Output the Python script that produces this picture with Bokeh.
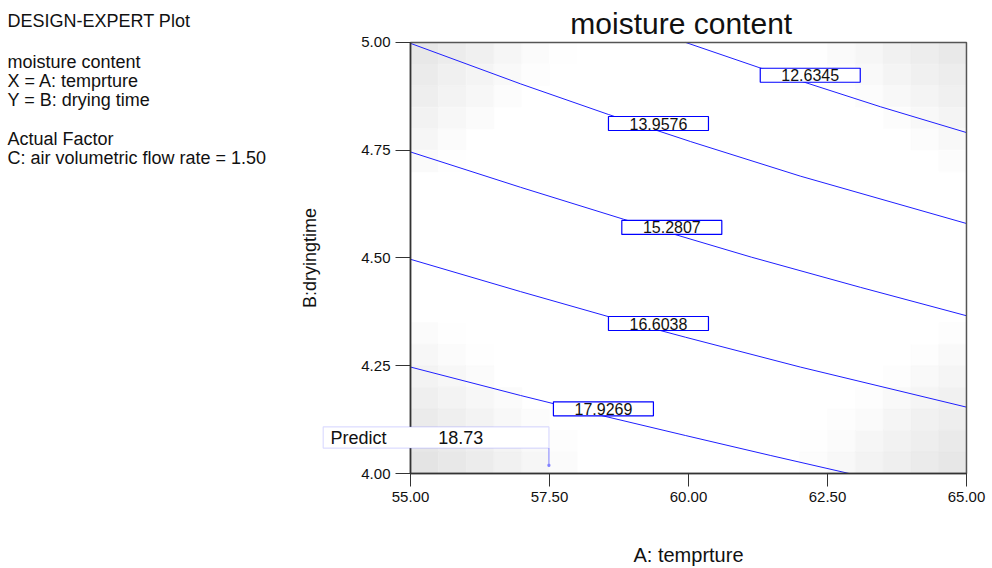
from bokeh.plotting import figure
from bokeh.models import FixedTicker, PrintfTickFormatter, Label, BoxAnnotation, Range1d
from bokeh.core.properties import value
from bokeh.embed import file_html
from bokeh.resources import INLINE

# ---------------- data ----------------
temp_ticks = [55.0, 57.5, 60.0, 62.5, 65.0]
time_ticks = [4.00, 4.25, 4.50, 4.75, 5.00]

levels = ["12.6345", "13.9576", "15.2807", "16.6038", "17.9269"]
c1_a = [59.95, 61.31, 63.45, 65.0]
c1_b = [5.000, 4.940, 4.851, 4.791]
c2_a = [55.0, 56.98, 58.56, 60.04, 62.01, 65.0]
c2_b = [4.998, 4.904, 4.833, 4.770, 4.690, 4.580]
c3_a = [55.0, 56.98, 58.83, 61.13, 63.09, 65.0]
c3_b = [4.746, 4.664, 4.590, 4.502, 4.432, 4.366]
c4_a = [55.0, 56.98, 58.56, 59.95, 62.01, 65.0]
c4_b = [4.497, 4.422, 4.364, 4.316, 4.247, 4.154]
c5_a = [55.0, 56.98, 58.42, 59.95, 61.47, 62.89]
c5_b = [4.247, 4.181, 4.135, 4.088, 4.042, 4.000]

label_a = [62.19, 59.46, 59.70, 59.46, 58.47]
label_b = [4.924, 4.812, 4.571, 4.348, 4.150]

# grey levels of the standard-error shading, 20 x 20 grid, corners only
shade_top_left = [      # rows from top, columns from left
    [232, 236, 240, 246, 251, 254],
    [235, 240, 244, 249, 253, 255],
    [238, 243, 247, 252, 255, 255],
    [242, 247, 251, 255, 255, 255],
    [246, 251, 255, 255, 255, 255],
    [250, 254, 255, 255, 255, 255],
]
shade_top_right = [     # rows from top, columns from right
    [233, 237, 241, 246, 250, 254],
    [237, 240, 244, 249, 253, 255],
    [240, 244, 248, 252, 255, 255],
    [244, 248, 252, 255, 255, 255],
    [248, 252, 255, 255, 255, 255],
    [252, 255, 255, 255, 255, 255],
]
shade_bottom_left = [   # rows from bottom, columns from left
    [228, 232, 236, 241, 246, 251],
    [231, 235, 239, 244, 249, 253],
    [235, 239, 243, 248, 252, 255],
    [239, 243, 247, 251, 255, 255],
    [243, 247, 251, 255, 255, 255],
    [247, 251, 254, 255, 255, 255],
    [251, 254, 255, 255, 255, 255],
]
shade_bottom_right = [  # rows from bottom, columns from right
    [231, 235, 239, 243, 248, 252],
    [234, 238, 242, 246, 251, 254],
    [238, 241, 245, 250, 253, 255],
    [241, 245, 249, 253, 255, 255],
    [245, 249, 253, 255, 255, 255],
    [249, 253, 255, 255, 255, 255],
    [253, 255, 255, 255, 255, 255],
]

predict_a = 57.49
predict_b = 4.019
predict_value = "18.73"

info_lines = [
    "DESIGN-EXPERT Plot",
    "moisture content",
    "X = A: temprture",
    "Y = B: drying time",
    "Actual Factor",
    "C: air volumetric flow rate = 1.50",
]

# ---------------- figure ----------------
FONT = "Liberation Sans"
N = 20
a0, a1 = temp_ticks[0], temp_ticks[-1]
b0, b1 = time_ticks[0], time_ticks[-1]
da = (a1 - a0) / N
db = (b1 - b0) / N

# the data frame fills the whole canvas; axes are pinned to the 55-65 / 4-5 box
p = figure(width=992, height=568, output_backend="svg", toolbar_location=None, title=None,
           x_range=Range1d(47.626, 65.468), y_range=Range1d(3.7796, 5.0974),
           min_border_left=0, min_border_right=0, min_border_top=0, min_border_bottom=0)
p.background_fill_color = "white"
p.border_fill_color = "white"
p.outline_line_color = None
p.xgrid.visible = False
p.ygrid.visible = False

# shading grid
grid = [[255] * N for _ in range(N)]
for i, row in enumerate(shade_top_left):
    for j, g in enumerate(row):
        grid[i][j] = min(grid[i][j], g)
for i, row in enumerate(shade_top_right):
    for j, g in enumerate(row):
        grid[i][N - 1 - j] = min(grid[i][N - 1 - j], g)
for i, row in enumerate(shade_bottom_left):
    for j, g in enumerate(row):
        grid[N - 1 - i][j] = min(grid[N - 1 - i][j], g)
for i, row in enumerate(shade_bottom_right):
    for j, g in enumerate(row):
        grid[N - 1 - i][N - 1 - j] = min(grid[N - 1 - i][N - 1 - j], g)

L, R, T, B, C = [], [], [], [], []
for i in range(N):
    for j in range(N):
        g = grid[i][j]
        if g < 255:
            L.append(a0 + j * da); R.append(a0 + (j + 1) * da)
            T.append(b1 - i * db); B.append(b1 - (i + 1) * db)
            C.append("#%02x%02x%02x" % (g, g, g))
p.quad(left=L, right=R, top=T, bottom=B, fill_color=C, line_color=C, line_width=0.5)

# contour lines
blue = "#1f1fff"
for xs, ys in [(c1_a, c1_b), (c2_a, c2_b), (c3_a, c3_b), (c4_a, c4_b), (c5_a, c5_b)]:
    p.line(xs, ys, line_color=blue, line_width=1)

# plot box border
p.quad(left=[a0], right=[a1], bottom=[b0], top=[b1], fill_color=None,
       line_color="#555555", line_width=1.5)

# contour labels
p.rect(x=label_a, y=label_b, width=100, height=14, width_units="screen", height_units="screen",
       fill_color="white", line_color="#0000ff", line_width=1.2)
p.text(x=label_a, y=label_b, text=levels, text_align="center", text_baseline="middle",
       text_font=value(FONT), text_font_size="16px", text_color="#111111")

# prediction flag
p.segment(x0=[predict_a], y0=[predict_b], x1=[predict_a], y1=[predict_b + 0.040],
          line_color="#8080ff", line_width=1)
p.scatter(x=[predict_a], y=[predict_b], size=2, marker="square",
          fill_color="#8080ff", line_color="#8080ff")
box = BoxAnnotation(left=predict_a - 4.06, right=predict_a, bottom=predict_b + 0.040,
                    top=predict_b + 0.089, fill_color="white", fill_alpha=1.0,
                    line_color="#8c8cff", line_width=1.2, level="overlay")
p.add_layout(box)
p.add_layout(Label(x=predict_a - 3.93, y=predict_b + 0.0645, text="Predict", text_baseline="middle",
                   text_font=FONT, text_font_size="18px", text_color="#111111", level="overlay"))
p.add_layout(Label(x=predict_a - 1.99, y=predict_b + 0.0645, text=predict_value,
                   text_baseline="middle", text_font=FONT, text_font_size="18px",
                   text_color="#111111", level="overlay"))

# title
p.add_layout(Label(x=59.87, y=b1 + 0.045, text="moisture content", text_align="center",
                   text_baseline="middle", text_font=FONT, text_font_size="30px",
                   text_color="#111111"))

# info text at the top left (screen px from the bottom-left corner)
info_y = [548, 507, 488, 469, 430, 411]
for txt, yy in zip(info_lines, info_y):
    p.add_layout(Label(x=7, y=yy, x_units="screen", y_units="screen", text=txt,
                       text_baseline="middle", text_font=FONT, text_font_size="18px",
                       text_color="#111111"))

# axes, pinned to the plot box
p.xaxis.fixed_location = b0
p.xaxis.bounds = (a0, a1)
p.yaxis.fixed_location = a0
p.yaxis.bounds = (b0, b1)
for ax, ticks in [(p.xaxis[0], temp_ticks), (p.yaxis[0], time_ticks)]:
    ax.ticker = FixedTicker(ticks=ticks)
    ax.formatter = PrintfTickFormatter(format="%.2f")
    ax.minor_tick_line_color = None
    ax.major_tick_in = 0
    ax.axis_line_color = "#333333"
    ax.axis_line_width = 1.5
    ax.major_tick_line_color = "#333333"
    ax.major_label_text_font = FONT
    ax.major_label_text_font_size = "15px"
    ax.major_label_text_color = "#111111"
    ax.axis_label_text_font = FONT
    ax.axis_label_text_font_style = "normal"
    ax.axis_label_text_color = "#111111"

p.xaxis.major_tick_out = 13
p.xaxis.major_label_standoff = 5
p.xaxis.axis_label = "A: temprture"
p.xaxis.axis_label_text_font_size = "20px"
p.xaxis.axis_label_standoff = 39

p.yaxis.major_tick_out = 15
p.yaxis.major_label_standoff = 5
p.yaxis.axis_label = "B:dryingtime"
p.yaxis.axis_label_text_font_size = "18px"
p.yaxis.axis_label_standoff = 38

open("out.html", "w").write(file_html(p, INLINE))
